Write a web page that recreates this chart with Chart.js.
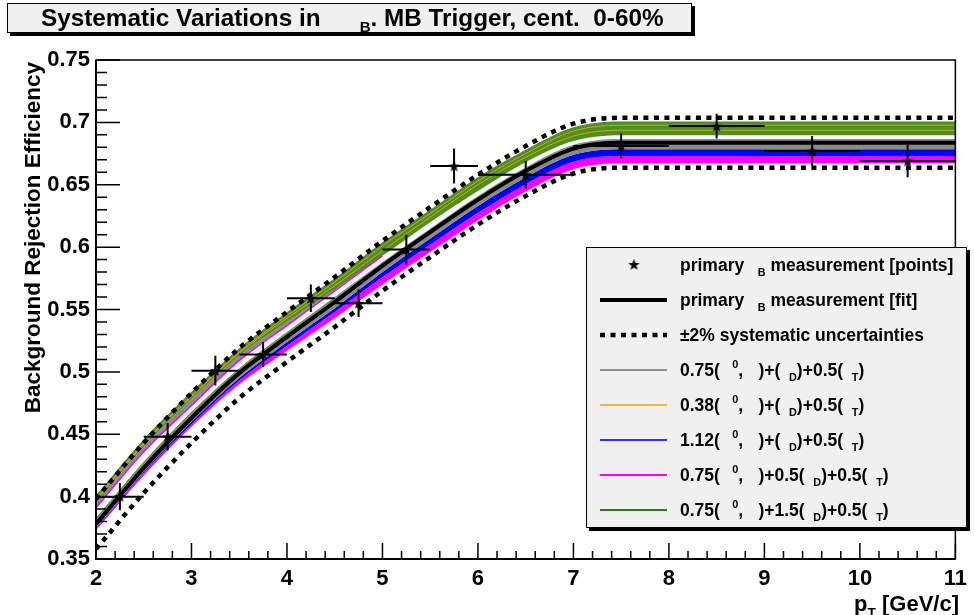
<!DOCTYPE html>
<html lang="en">
<head>
<meta charset="UTF-8" />
<title>Systematic Variations in eB</title>
<script src="https://cdn.jsdelivr.net/npm/chart.js"></script>
<style>
  html, body { margin: 0; padding: 0; background: #fff; }
  canvas { display: block; }
</style>
</head>
<body>
<canvas id="sysChart" width="974" height="615"></canvas>
<script>
  const FONT = "'Liberation Sans', Arial, Helvetica, sans-serif";

  // texts (TLatex style, greek glyphs render blank like in the original)
  const titleText = "Systematic Variations in    #varepsilon_{B}. MB Trigger, cent.  0-60%";
  const xTitle = "p_{T} [GeV/c]";
  const yTitle = "Background Rejection Efficiency";
  const legendLabels = [
    "primary #varepsilon_{B} measurement [points]",
    "primary #varepsilon_{B} measurement [fit]",
    "\u00b12% systematic uncertainties",
    "0.75(#pi^{0}, #eta)+(#varepsilon_{D})+0.5(#varepsilon_{T})",
    "0.38(#pi^{0}, #eta)+(#varepsilon_{D})+0.5(#varepsilon_{T})",
    "1.12(#pi^{0}, #eta)+(#varepsilon_{D})+0.5(#varepsilon_{T})",
    "0.75(#pi^{0}, #eta)+0.5(#varepsilon_{D})+0.5(#varepsilon_{T})",
    "0.75(#pi^{0}, #eta)+1.5(#varepsilon_{D})+0.5(#varepsilon_{T})"
  ];

  // measured points
  const ptX    = [2.25, 2.75, 3.25, 3.75, 4.25, 4.75, 5.25, 5.75, 6.5, 7.5, 8.5, 9.5, 10.5];
  const ptY    = [0.400, 0.448, 0.501, 0.514, 0.559, 0.555, 0.598, 0.665, 0.658, 0.681, 0.697, 0.677, 0.669];
  const ptXerr = [0.25, 0.25, 0.25, 0.25, 0.25, 0.25, 0.25, 0.25, 0.5, 0.5, 0.5, 0.5, 0.5];
  const ptYerr = [0.011, 0.011, 0.012, 0.010, 0.011, 0.011, 0.012, 0.014, 0.011, 0.010, 0.010, 0.012, 0.013];

  // curves, read at these pT values
  const fitX       = [2, 2.5, 3, 3.5, 4, 4.5, 5, 5.5, 6, 6.5, 7, 7.5, 8, 9, 10, 11];
  const fitBlack   = [0.378, 0.423, 0.463, 0.499, 0.528, 0.556, 0.585, 0.612, 0.638, 0.661, 0.679, 0.6837, 0.6837, 0.6837, 0.6837, 0.6837];
  const sysUp      = [0.398, 0.443, 0.483, 0.519, 0.548, 0.576, 0.605, 0.632, 0.658, 0.681, 0.699, 0.7037, 0.7037, 0.7037, 0.7037, 0.7037];
  const sysDown    = [0.358, 0.403, 0.443, 0.479, 0.508, 0.536, 0.565, 0.592, 0.618, 0.641, 0.659, 0.6637, 0.6637, 0.6637, 0.6637, 0.6637];
  const greenTop   = [0.401, 0.446, 0.484, 0.519, 0.548, 0.575, 0.604, 0.630, 0.656, 0.678, 0.696, 0.7007, 0.7007, 0.7007, 0.7007, 0.7007];
  const greenMid   = [0.395, 0.440, 0.478, 0.513, 0.540, 0.566, 0.593, 0.620, 0.645, 0.668, 0.685, 0.6897, 0.6897, 0.6897, 0.6897, 0.6897];
  const greenBot   = [0.391, 0.436, 0.473, 0.509, 0.537, 0.565, 0.593, 0.620, 0.645, 0.668, 0.685, 0.6897, 0.6897, 0.6897, 0.6897, 0.6897];
  const orangeA    = [0.398, 0.443, 0.481, 0.516, 0.545, 0.572, 0.601, 0.627, 0.653, 0.675, 0.693, 0.6977, 0.6977, 0.6977, 0.6977, 0.6977];
  const orangeB    = [0.397, 0.442, 0.480, 0.515, 0.543, 0.569, 0.597, 0.624, 0.650, 0.672, 0.689, 0.6937, 0.6937, 0.6937, 0.6937, 0.6937];
  const magentaUp  = [0.391, 0.436, 0.473, 0.509, 0.537, 0.565, 0.593];
  const oliveLow   = [0.382, 0.427, 0.467, 0.502, 0.531, 0.559];
  const grayTop    = [0.383, 0.428, 0.468, 0.503, 0.532, 0.560, 0.588, 0.615, 0.641, 0.664, 0.682, 0.6867, 0.6867, 0.6867, 0.6867, 0.6867];
  const grayBot    = [0.375, 0.420, 0.460, 0.495, 0.524, 0.551, 0.580, 0.607, 0.633, 0.656, 0.674, 0.6784, 0.6784, 0.6784, 0.6784, 0.6784];
  const blueBot    = [0.374, 0.419, 0.458, 0.493, 0.521, 0.548, 0.576, 0.602, 0.6275, 0.6505, 0.6685, 0.673, 0.673, 0.673, 0.673, 0.673];
  const magentaBot = [0.373, 0.417, 0.456, 0.490, 0.517, 0.543, 0.570, 0.596, 0.6215, 0.6445, 0.6625, 0.6672, 0.6672, 0.6672, 0.6672, 0.6672];

  const toXY = (arr) => arr.map((y, i) => ({ x: fitX[i], y: y }));

  // filled star marker
  const star = document.createElement("canvas");
  star.width = 13; star.height = 13;
  (function () {
    const c = star.getContext("2d");
    c.beginPath();
    for (let k = 0; k < 10; k++) {
      const r = k % 2 === 0 ? 6 : 2.5;
      const a = -Math.PI / 2 + k * Math.PI / 5;
      const px = 6.5 + r * Math.cos(a), py = 7 + r * Math.sin(a);
      if (k === 0) c.moveTo(px, py); else c.lineTo(px, py);
    }
    c.closePath();
    c.fillStyle = "#000";
    c.fill();
  })();

  // tiny TLatex-ish renderer: _{..}, ^{..}, #greek -> blank gap
  const GREEK_GAP = { varepsilon: 0.5, pi: 0.7, eta: 0.6 };
  function latexRuns(str) {
    const runs = [];
    let buf = "", i = 0;
    const flush = () => { if (buf) { runs.push({ kind: "n", t: buf }); buf = ""; } };
    while (i < str.length) {
      const ch = str[i];
      if (ch === "#") {
        const m = /^#([a-z]+)/.exec(str.slice(i));
        flush();
        runs.push({ kind: "gap", w: GREEK_GAP[m[1]] || 0.5 });
        i += m[0].length;
      } else if ((ch === "_" || ch === "^") && str[i + 1] === "{") {
        const end = str.indexOf("}", i);
        flush();
        runs.push({ kind: ch === "_" ? "sub" : "sup", t: str.slice(i + 2, end) });
        i = end + 1;
      } else {
        buf += ch;
        i++;
      }
    }
    flush();
    return runs;
  }
  function drawLatex(ctx, str, x, y, size, dry) {
    let cx = x;
    for (const r of latexRuns(str)) {
      if (r.kind === "gap") { cx += r.w * size; continue; }
      let s = size, dy = 0;
      if (r.kind === "sub") { s = size * 0.62; dy = size * 0.28; }
      if (r.kind === "sup") { s = size * 0.62; dy = -size * 0.45; }
      ctx.font = "bold " + s + "px " + FONT;
      if (!dry) ctx.fillText(r.t, cx, y + dy);
      cx += ctx.measureText(r.t).width;
    }
    return cx - x;
  }

  const rootStyle = {
    id: "rootStyle",
    afterDatasetsDraw(chart) {
      const ctx = chart.ctx, xs = chart.scales.x, ys = chart.scales.y;
      ctx.save();
      ctx.strokeStyle = "#000";
      ctx.lineWidth = 2;
      ctx.beginPath();
      for (let i = 0; i < ptX.length; i++) {
        const py = ys.getPixelForValue(ptY[i]);
        const px = xs.getPixelForValue(ptX[i]);
        ctx.moveTo(xs.getPixelForValue(ptX[i] - ptXerr[i]), py);
        ctx.lineTo(xs.getPixelForValue(ptX[i] + ptXerr[i]), py);
        ctx.moveTo(px, ys.getPixelForValue(ptY[i] + ptYerr[i]));
        ctx.lineTo(px, ys.getPixelForValue(ptY[i] - ptYerr[i]));
      }
      ctx.stroke();
      ctx.restore();
    },
    afterDraw(chart) {
      const ctx = chart.ctx, ca = chart.chartArea;
      const xs = chart.scales.x, ys = chart.scales.y;
      ctx.save();

      // frame
      ctx.strokeStyle = "#000";
      ctx.lineWidth = 1.5;
      ctx.strokeRect(ca.left, ca.top, ca.right - ca.left, ca.bottom - ca.top);
      ctx.lineWidth = 2;
      ctx.beginPath();
      ctx.moveTo(ca.left, ca.top); ctx.lineTo(ca.left, ca.bottom); ctx.lineTo(ca.right, ca.bottom);
      ctx.stroke();

      // inward ticks
      ctx.lineWidth = 1.5;
      ctx.beginPath();
      for (let k = 0; k <= 40; k++) {
        const py = ys.getPixelForValue(0.35 + k * 0.01);
        const len = k % 5 === 0 ? 24 : 11;
        ctx.moveTo(ca.left, py); ctx.lineTo(ca.left + len, py);
      }
      for (let k = 0; k <= 45; k++) {
        const px = xs.getPixelForValue(2 + k * 0.2);
        const len = k % 5 === 0 ? 16 : 8;
        ctx.moveTo(px, ca.bottom); ctx.lineTo(px, ca.bottom - len);
      }
      ctx.stroke();

      // axis titles
      ctx.fillStyle = "#000";
      ctx.textBaseline = "alphabetic";
      ctx.textAlign = "left";
      const xw = drawLatex(ctx, xTitle, 0, 0, 22, true);
      drawLatex(ctx, xTitle, 959 - xw, 611, 22);

      ctx.save();
      ctx.translate(40, 62);
      ctx.rotate(-Math.PI / 2);
      ctx.textAlign = "right";
      ctx.font = "bold 22.5px " + FONT;
      ctx.fillText(yTitle, 0, 0);
      ctx.restore();

      // title pave
      ctx.fillStyle = "#000";
      ctx.fillRect(10, 6, 685, 30);
      ctx.fillStyle = "#f0f0f0";
      ctx.fillRect(7, 3, 685, 30);
      ctx.lineWidth = 1;
      ctx.strokeRect(7.5, 3.5, 684, 29);
      ctx.fillStyle = "#000";
      drawLatex(ctx, titleText, 41, 25.5, 24.3);

      // legend
      const L = { x: 586, y: 247, w: 381, h: 281 };
      ctx.fillStyle = "#000";
      ctx.fillRect(L.x + 3, L.y + 3, L.w, L.h);
      ctx.fillStyle = "#f0f0f0";
      ctx.fillRect(L.x, L.y, L.w, L.h);
      ctx.strokeStyle = "#000";
      ctx.strokeRect(L.x + 0.5, L.y + 0.5, L.w - 1, L.h - 1);
      const samples = [
        { star: true },
        { color: "#000", width: 4 },
        { color: "#000", width: 4.5, dash: [5, 5.5] },
        { color: "#909090", width: 2 },
        { color: "#f5b43a", width: 2 },
        { color: "#3030ff", width: 2 },
        { color: "#ff00ff", width: 2 },
        { color: "#2a7f22", width: 2 }
      ];
      legendLabels.forEach((lab, i) => {
        const yc = 265 + i * 35;
        const s = samples[i];
        if (s.star) {
          ctx.drawImage(star, 634 - 6.5, yc - 7);
        } else {
          ctx.save();
          ctx.strokeStyle = s.color;
          ctx.lineWidth = s.width;
          if (s.dash) ctx.setLineDash(s.dash);
          ctx.beginPath();
          ctx.moveTo(600, yc); ctx.lineTo(667, yc);
          ctx.stroke();
          ctx.restore();
        }
        ctx.fillStyle = "#000";
        drawLatex(ctx, lab, 680, yc + 6, 17.5);
      });

      ctx.restore();
    }
  };

  function band(arr, color, fill) {
    return {
      data: toXY(arr), fill: fill, backgroundColor: color, borderColor: color,
      borderWidth: 0, pointRadius: 0, cubicInterpolationMode: "monotone", order: 10
    };
  }
  function curve(arr, color, width, dash, order) {
    return {
      data: toXY(arr), fill: false, borderColor: color, backgroundColor: color,
      borderWidth: width, borderDash: dash || [], pointRadius: 0,
      cubicInterpolationMode: "monotone", order: order
    };
  }

  const datasets = [
    band(greenTop, "#4b9020", "+1"),
    band(greenMid, "#8a8a8a", "+1"),
    band(greenBot, "#8a8a8a", false),
    band(grayTop, "#8a8a8a", "+1"),
    band(grayBot, "#0000ff", "+1"),
    band(blueBot, "#ff00ff", "+1"),
    band(magentaBot, "#ff00ff", false),
    curve(orangeA, "#d9a21c", 1, null, 8),
    curve(orangeB, "#d9a21c", 1, null, 8),
    curve(oliveLow, "#6f9a1c", 1.2, null, 8),
    curve(magentaUp, "#ff00ff", 1.5, null, 8),
    curve(fitBlack, "#000", 4, null, 5),
    curve(sysUp, "#000", 4.5, [5, 5.5], 4),
    curve(sysDown, "#000", 4.5, [5, 5.5], 4),
    {
      data: ptX.map((x, i) => ({ x: x, y: ptY[i] })),
      showLine: false, pointStyle: star, pointRadius: 6, borderWidth: 0, order: 1
    }
  ];

  const tickFont = { family: FONT, size: 22, weight: "bold" };

  new Chart(document.getElementById("sysChart").getContext("2d"), {
    type: "line",
    data: { datasets: datasets },
    options: {
      responsive: false,
      animation: false,
      events: [],
      layout: { padding: { left: 0, right: 16, top: 60, bottom: 0 } },
      plugins: {
        legend: { display: false },
        tooltip: { enabled: false },
        filler: { propagate: false }
      },
      scales: {
        x: {
          type: "linear", min: 2, max: 11,
          afterFit: (s) => { s.height = 56; },
          grid: { display: false, drawTicks: false },
          border: { display: false },
          ticks: { stepSize: 1, padding: 7, color: "#000", font: tickFont, maxRotation: 0, autoSkip: false }
        },
        y: {
          type: "linear", min: 0.35, max: 0.75,
          afterFit: (s) => { s.width = 96; },
          grid: { display: false, drawTicks: false },
          border: { display: false },
          ticks: {
            stepSize: 0.05, padding: 6, color: "#000", font: tickFont, autoSkip: false,
            callback: (v) => String(parseFloat(v.toFixed(2)))
          }
        }
      }
    },
    plugins: [rootStyle]
  });
</script>
</body>
</html>
